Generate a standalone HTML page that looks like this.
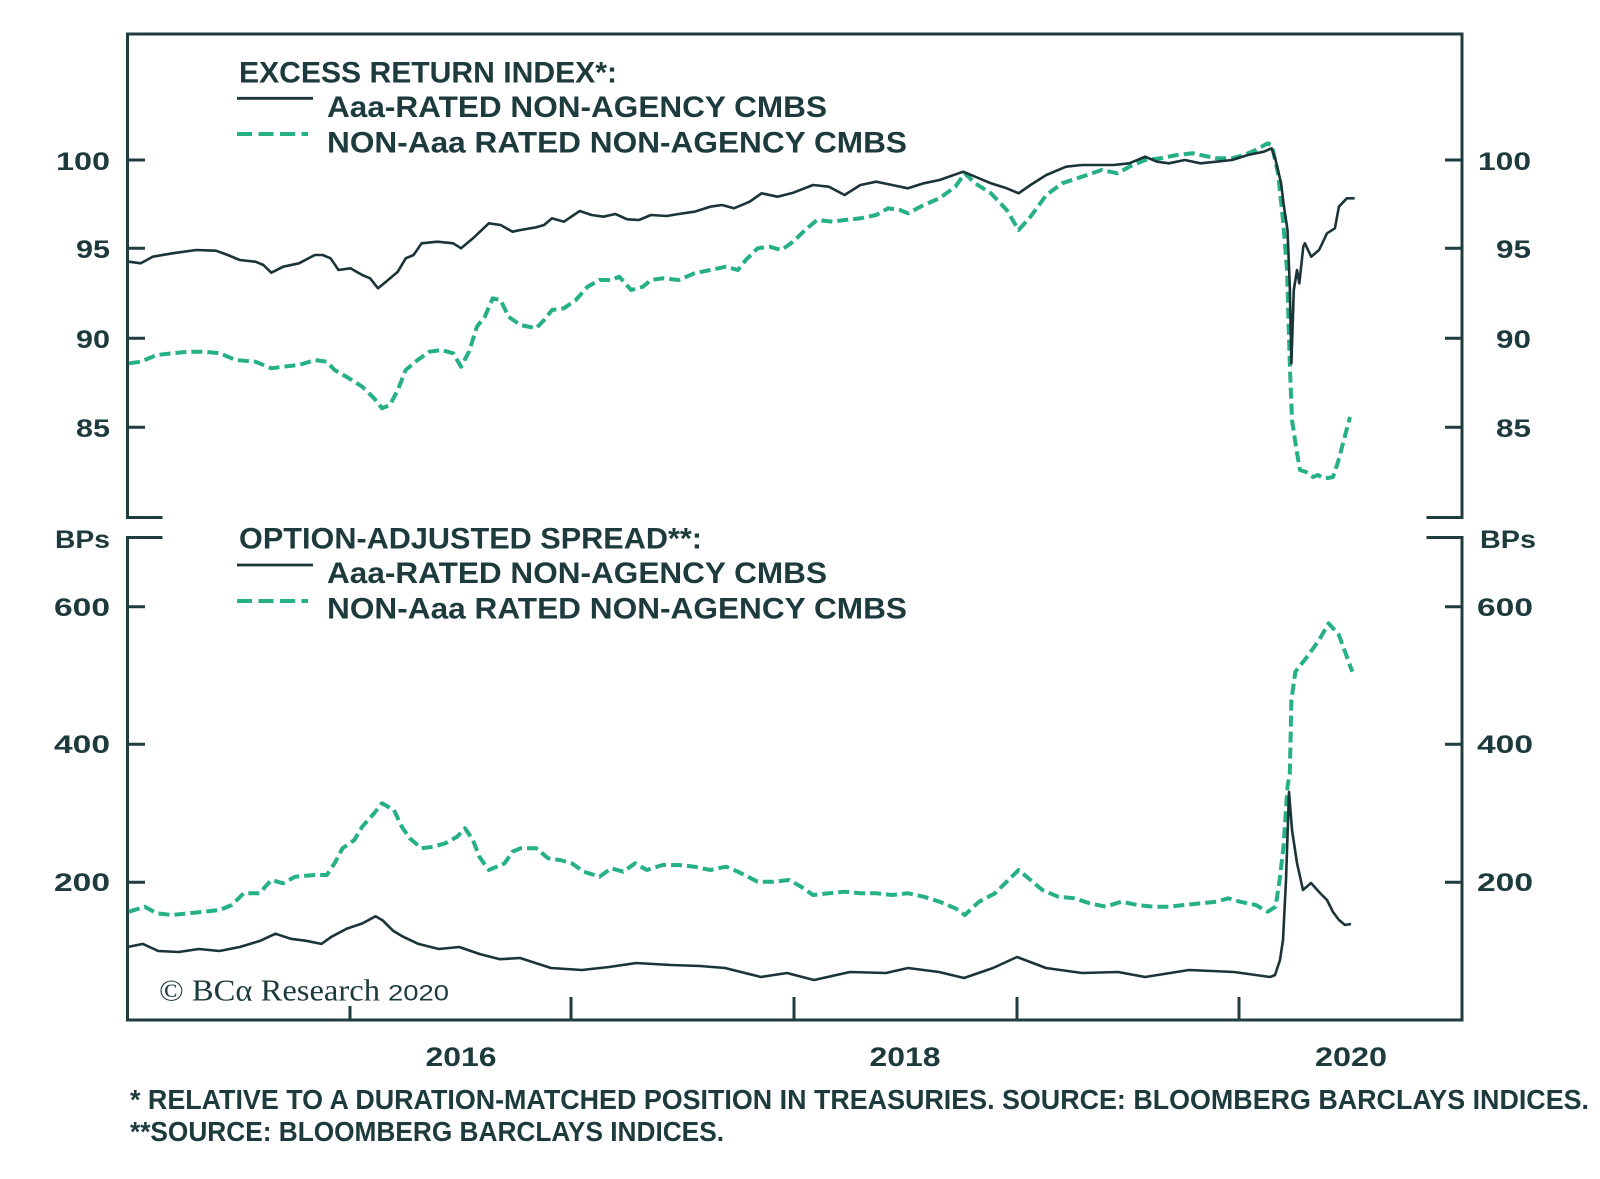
<!DOCTYPE html>
<html>
<head>
<meta charset="utf-8">
<style>
  html, body { margin:0; padding:0; background:#ffffff; }
  svg { display:block; }
  .t { font-family: "Liberation Sans", "DejaVu Sans", sans-serif; fill:#1d3a3d; }
  .s { font-family: "Liberation Serif", "DejaVu Serif", serif; fill:#1d3a3d; }
</style>
</head>
<body>
<svg width="1600" height="1179" viewBox="0 0 1600 1179" xmlns="http://www.w3.org/2000/svg">
  <rect x="0" y="0" width="1600" height="1179" fill="#ffffff"/>

  <!-- Frame: top panel -->
  <g stroke="#1f3c3f" stroke-width="3" fill="none" stroke-linecap="square">
    <polyline points="161,517.5 127.5,517.5 127.5,34 1462,34 1462,517.5 1428,517.5"/>
    <!-- lower panel -->
    <polyline points="161,537.5 127.5,537.5 127.5,1020 1462,1020 1462,537.5 1428,537.5"/>
  </g>

  <!-- Y ticks -->
  <g stroke="#1f3c3f" stroke-width="3">
    <line x1="127.5" y1="160" x2="145" y2="160"/>
    <line x1="127.5" y1="248.3" x2="145" y2="248.3"/>
    <line x1="127.5" y1="338.3" x2="145" y2="338.3"/>
    <line x1="127.5" y1="427.3" x2="145" y2="427.3"/>
    <line x1="1462" y1="160" x2="1445" y2="160"/>
    <line x1="1462" y1="248.3" x2="1445" y2="248.3"/>
    <line x1="1462" y1="338.3" x2="1445" y2="338.3"/>
    <line x1="1462" y1="427.3" x2="1445" y2="427.3"/>

    <line x1="127.5" y1="606.7" x2="145" y2="606.7"/>
    <line x1="127.5" y1="744.3" x2="145" y2="744.3"/>
    <line x1="127.5" y1="882.3" x2="145" y2="882.3"/>
    <line x1="1462" y1="606.7" x2="1445" y2="606.7"/>
    <line x1="1462" y1="744.3" x2="1445" y2="744.3"/>
    <line x1="1462" y1="882.3" x2="1445" y2="882.3"/>

    <!-- X ticks -->
    <line x1="350" y1="1020" x2="350" y2="1006"/>
    <line x1="571" y1="1020" x2="571" y2="997"/>
    <line x1="794" y1="1020" x2="794" y2="997"/>
    <line x1="1017" y1="1020" x2="1017" y2="997"/>
    <line x1="1239" y1="1020" x2="1239" y2="997"/>
  </g>

  <!-- Y labels left -->
  <g class="t" font-size="25" font-weight="bold" text-anchor="end">
    <text class="t" x="110" y="170" textLength="54" lengthAdjust="spacingAndGlyphs">100</text>
    <text class="t" x="110" y="258" textLength="34" lengthAdjust="spacingAndGlyphs">95</text>
    <text class="t" x="110" y="348" textLength="34" lengthAdjust="spacingAndGlyphs">90</text>
    <text class="t" x="110" y="437" textLength="34" lengthAdjust="spacingAndGlyphs">85</text>
    <text class="t" x="110" y="548" textLength="55" lengthAdjust="spacingAndGlyphs">BPs</text>
    <text class="t" x="110" y="616" textLength="56" lengthAdjust="spacingAndGlyphs">600</text>
    <text class="t" x="110" y="753" textLength="56" lengthAdjust="spacingAndGlyphs">400</text>
    <text class="t" x="110" y="891" textLength="56" lengthAdjust="spacingAndGlyphs">200</text>
  </g>
  <!-- Y labels right -->
  <g font-size="25" font-weight="bold" text-anchor="end">
    <text class="t" x="1531" y="170" textLength="53" lengthAdjust="spacingAndGlyphs">100</text>
    <text class="t" x="1531" y="258" textLength="35" lengthAdjust="spacingAndGlyphs">95</text>
    <text class="t" x="1531" y="348" textLength="35" lengthAdjust="spacingAndGlyphs">90</text>
    <text class="t" x="1531" y="437" textLength="35" lengthAdjust="spacingAndGlyphs">85</text>
    <text class="t" x="1536" y="548" textLength="56" lengthAdjust="spacingAndGlyphs">BPs</text>
    <text class="t" x="1533" y="616" textLength="56" lengthAdjust="spacingAndGlyphs">600</text>
    <text class="t" x="1533" y="753" textLength="56" lengthAdjust="spacingAndGlyphs">400</text>
    <text class="t" x="1533" y="891" textLength="56" lengthAdjust="spacingAndGlyphs">200</text>
  </g>

  <!-- X labels -->
  <g font-size="27" font-weight="bold" text-anchor="middle">
    <text class="t" x="461" y="1066" textLength="71" lengthAdjust="spacingAndGlyphs">2016</text>
    <text class="t" x="905" y="1066" textLength="71" lengthAdjust="spacingAndGlyphs">2018</text>
    <text class="t" x="1351" y="1066" textLength="72" lengthAdjust="spacingAndGlyphs">2020</text>
  </g>

  <!-- Legends -->
  <g font-size="30" font-weight="bold">
    <text class="t" x="239" y="82.5" textLength="378" lengthAdjust="spacingAndGlyphs">EXCESS RETURN INDEX*:</text>
    <text class="t" x="327" y="117" textLength="500" lengthAdjust="spacingAndGlyphs">Aaa-RATED NON-AGENCY CMBS</text>
    <text class="t" x="327" y="152.5" textLength="580" lengthAdjust="spacingAndGlyphs">NON-Aaa RATED NON-AGENCY CMBS</text>

    <text class="t" x="239" y="548.5" textLength="463" lengthAdjust="spacingAndGlyphs">OPTION-ADJUSTED SPREAD**:</text>
    <text class="t" x="327" y="583" textLength="500" lengthAdjust="spacingAndGlyphs">Aaa-RATED NON-AGENCY CMBS</text>
    <text class="t" x="327" y="618.5" textLength="580" lengthAdjust="spacingAndGlyphs">NON-Aaa RATED NON-AGENCY CMBS</text>
  </g>
  <g>
    <line x1="237" y1="98.3" x2="313" y2="98.3" stroke="#1b3437" stroke-width="2.8"/>
    <line x1="237" y1="134" x2="308" y2="134" stroke="#26b085" stroke-width="4" stroke-dasharray="15 6.5"/>
    <line x1="237" y1="565" x2="313" y2="565" stroke="#1b3437" stroke-width="2.8"/>
    <line x1="237" y1="601" x2="308" y2="601" stroke="#26b085" stroke-width="4" stroke-dasharray="15 6.5"/>
  </g>

  <!-- TOP PANEL SERIES -->
  <polyline fill="none" stroke="#26b085" stroke-width="4" stroke-dasharray="11 5" stroke-linejoin="round"
    points="129,363.3 140.8,361.7 156.6,355 172.4,353.3 188.3,351.7 204.1,351.7 219.9,353.3 235.7,360 255.5,361.7 271.3,368.3 283.2,366.7 299,365 314.8,360 326.7,361.7 334.6,370 346.4,376.7 362.2,386.7 374.1,398.3 382,408.3 389.9,405 397.8,390 405.7,370 417.6,360 429.5,351.7 441.3,350 453.2,353.3 461.1,366.7 469,351.7 476.9,326.7 484.8,316.7 492.7,298.3 500.6,300 508.5,316.7 520.4,325 536.2,328.3 544.1,320 552,310 563.9,308.3 575.8,300 587.6,286.7 599.5,280 611.3,280 619.2,276.7 631.1,290 643,286.7 650.9,280 662.7,278.3 678.6,280 694.4,273.3 710.2,270 726,266.7 737.9,270 745.8,260 757.6,248.3 769.5,246.7 781.4,250 793.2,241.7 805.1,230 817,220 832.8,221.7 844.6,220 860.4,218.3 876.3,215 888.1,208.3 900,210 907.9,213.3 923.7,205 939.5,198.3 955.3,186.7 964.8,173.3 975.1,183.3 990.9,193.3 1006.7,210 1018.6,230 1030.5,216.7 1046.3,195 1062.1,183.3 1081.9,176.7 1101.6,170 1117.4,173.3 1129.3,166.7 1145.1,160 1160.9,158.3 1176.8,155 1192.6,153.3 1200.5,155 1216.3,158.3 1232.1,158.3 1244,155 1255.8,150 1267.7,143.3 1271.7,145 1278,173 1283,220 1287,270 1290,370 1292,420 1295,440 1297,453 1300,470 1306,472 1313,477 1318,475 1323,478 1328,478 1333,477 1338,462 1342,447 1346,432 1350,417"/>
  <polyline fill="none" stroke="#1b3437" stroke-width="2.6" stroke-linejoin="round"
    points="129,261.7 140.8,263.3 152.7,256.7 172.4,253.3 196.2,250 215.9,250.7 227.8,255 239.7,260 255.5,261.7 263.4,265 271.3,272.7 283.2,266.7 299,263.3 314.8,255 322.7,255 330.6,258.3 338.5,270 350.4,268.3 362.2,275 370.1,278.3 378,288.3 386,281.7 397.8,271.7 405.7,258.3 413.6,255 421.6,243.3 437.4,241.7 453.2,243.3 461.1,248.3 473,238.3 488.8,223.3 500.6,225 512.5,231.7 520.4,230 536.2,227.3 544.1,225 552,218.3 563.9,221.7 579.7,211 591.6,215 603.4,216.7 615.3,214 627.2,219.3 639,220 650.9,215 666.7,216 678.6,214 694.4,211.7 710.2,206.7 722,205 733.9,208.3 749.7,201.7 761.6,193.3 777.4,196.7 793.2,192.7 813,185 828.8,186.7 844.6,195 860.4,185 876.3,181.7 892.1,185 907.9,188.3 923.7,183.3 939.5,180 963.2,171.7 975.1,176.7 990.9,183.3 1006.7,188.3 1018.6,193.3 1030.5,185 1046.3,175 1066.1,166.7 1081.9,165 1097.7,165 1113.5,165 1129.3,163.3 1145.1,156.7 1157,161.7 1168.9,163.3 1184.7,160 1200.5,163.3 1216.3,161.7 1232.1,160 1247.9,155 1263.8,151.7 1271.7,148.3 1275.6,160 1281.1,183.3 1283.5,203.3 1287.5,230 1289.8,286.7 1291.4,363.3 1293.8,290 1297,270 1299.3,283.3 1303.3,246.7 1304.9,243.3 1311.2,256.7 1319.1,250 1327,233.3 1334.9,228.3 1338.9,206.7 1346.8,198.3 1354.7,198.3"/>

  <!-- LOWER PANEL SERIES -->
  <polyline fill="none" stroke="#26b085" stroke-width="4" stroke-dasharray="11 5" stroke-linejoin="round"
    points="129,911.7 144.8,906.7 156.6,913.3 172.4,915 188.3,913.3 204.1,911.7 219.9,910 231.8,905 243.6,893.3 259.4,893.3 271.3,880 283.2,883.3 295,876.7 314.8,875 326.7,875 334.6,863.3 342.5,848.3 354.3,840 362.2,826.7 374.1,813.3 382,803.3 393.9,810 401.8,826.7 409.7,838.3 421.6,848.3 433.4,846.7 445.3,843.3 457.1,836.7 465,828.3 472.9,840 479.3,856.7 488.8,870 496.7,866.7 504.6,863.3 512.5,851.7 520.4,848.3 536.2,848.3 548.1,858.3 559.9,860 571.8,863.3 583.7,871.7 599.5,876.7 611.3,868.3 623.2,871.7 635.1,863.3 646.9,870 662.7,865 678.6,865 694.4,866.7 710.2,870 726,866.7 737.9,871.7 757.6,881.7 773.5,881.7 789.3,880 801.1,886.7 813,895 828.8,893.3 844.6,891.7 860.4,893.3 876.3,893.3 892.1,895 907.9,893.3 923.7,896.7 939.5,901.7 955.3,908.3 964.8,915 979.1,901.7 994.9,893.3 1006.7,881.7 1018.6,870 1030.5,880 1042.3,890 1058.1,896.7 1074,898.3 1089.8,903.3 1105.6,906.7 1121.4,901.7 1137.2,905 1153,906.7 1168.9,906.7 1184.7,905 1200.5,903.3 1216.3,901.7 1228.2,898.3 1240,901.7 1255.8,905 1267.7,911.7 1275.6,906.7 1279.6,880 1283.5,846.7 1287.5,786.7 1289.8,773.3 1291.4,700 1295.4,671.7 1299.3,666.7 1307.2,656.7 1319.1,640 1328.6,623.3 1338.9,635 1346.8,656.7 1352.3,671.7"/>
  <polyline fill="none" stroke="#1b3437" stroke-width="2.6" stroke-linejoin="round"
    points="127.6,947 142.9,943.9 158.2,951 178.6,952 199,949 219.4,951 239.8,947 260.2,940.8 275.5,933.7 290.8,938.8 306.1,940.8 321.4,943.9 331.6,936.7 346.9,928.6 362.2,923.5 375.5,916.3 382.7,920.4 392.9,930.6 403.1,936.7 418.4,943.9 438.8,949 459.2,947 479.6,954 500,959.2 520,958 551,968 582,970 609,967 636,963 671,965 700,966 725,968 761,977 787,973 814,980 850,972 886,973 908,968 939,972 964,978 993,968 1017,957 1046,968 1082,973 1118,972 1145,977 1189,970 1234,972 1270,977 1275,975 1280,960 1283,940 1286,880 1289,792 1292,830 1297,863 1303,890 1311,883 1320,893 1327,900 1333,912 1339,920 1345,925 1351,924"/>

  <!-- Copyright -->
  <text class="s" x="159" y="1000.5" font-size="31" textLength="221" lengthAdjust="spacingAndGlyphs">© BCα Research</text>
  <text class="t" x="388" y="1000.5" font-size="22" textLength="61" lengthAdjust="spacingAndGlyphs">2020</text>

  <!-- Footnotes -->
  <g font-size="28" font-weight="bold">
    <text class="t" x="130" y="1109" textLength="1459" lengthAdjust="spacingAndGlyphs">* RELATIVE TO A DURATION-MATCHED POSITION IN TREASURIES. SOURCE: BLOOMBERG BARCLAYS INDICES.</text>
    <text class="t" x="130" y="1141" textLength="594" lengthAdjust="spacingAndGlyphs">**SOURCE: BLOOMBERG BARCLAYS INDICES.</text>
  </g>
</svg>
</body>
</html>
